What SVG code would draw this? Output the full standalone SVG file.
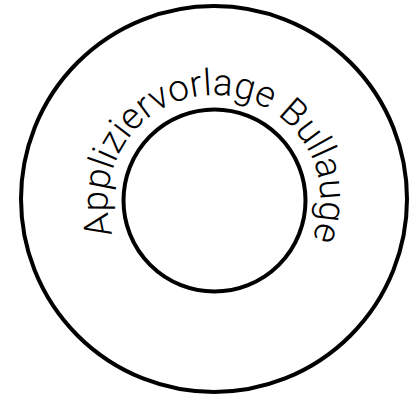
<svg xmlns="http://www.w3.org/2000/svg" xmlns:xlink="http://www.w3.org/1999/xlink" width="412" height="397" viewBox="0 0 412 397">
<style>
.ring{fill:none;stroke:#000;stroke-width:4}
.lbl{font-family:"Roboto","Liberation Sans",sans-serif;font-size:37px;font-weight:300;fill:#000}
</style>
<defs>
<path id="arc" d="M 112.6 234.1 A 107 107 0 0 1 315.4 165.9 A 107 107 0 0 1 112.6 234.1"/>
</defs>
<rect width="412" height="397" fill="#fff"/>
<g id="outer"><circle class="ring" cx="214" cy="199" r="193"/></g>
<g id="inner"><circle class="ring" cx="214.5" cy="200.5" r="91"/></g>
<g id="label"><text class="lbl"><textPath xlink:href="#arc" href="#arc">Appliziervorlage Bullauge</textPath></text></g>
</svg>
